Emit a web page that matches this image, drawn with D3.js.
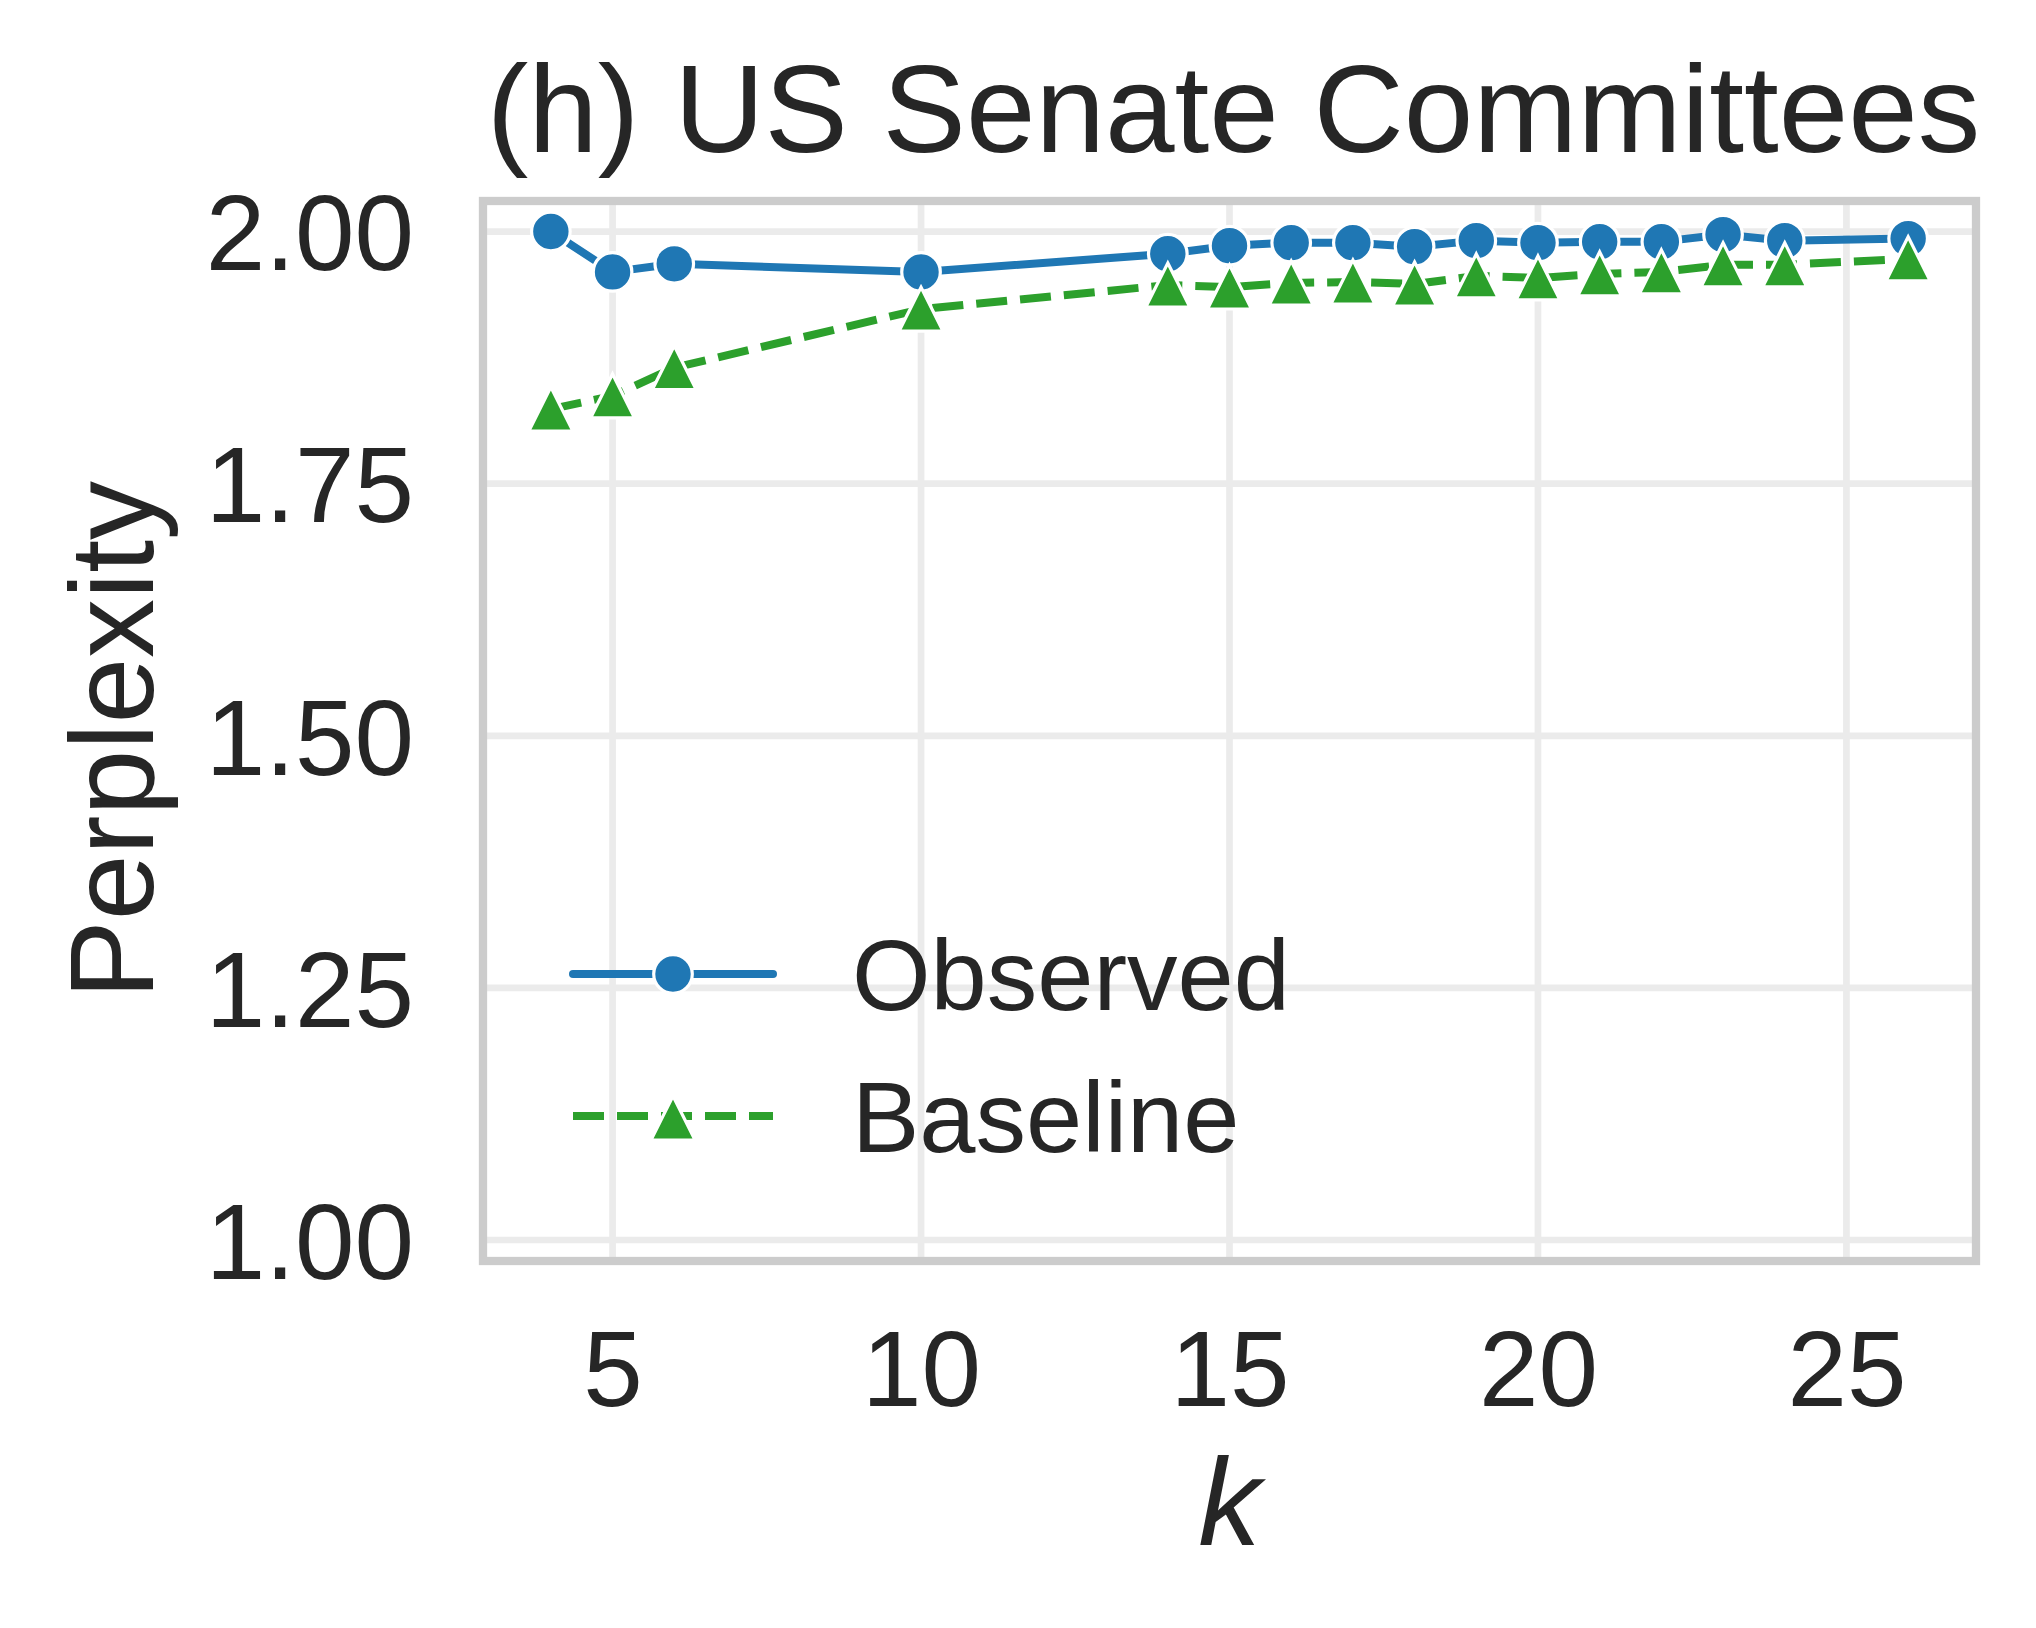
<!DOCTYPE html>
<html>
<head>
<meta charset="utf-8">
<script src="https://cdn.jsdelivr.net/npm/d3@7"></script>
<style>
  html, body { margin: 0; padding: 0; background: #ffffff; }
  svg { display: block; }
  text { font-family: "Liberation Sans", Arial, Helvetica, sans-serif; fill: #262626; }
</style>
</head>
<body>
<svg id="chart" width="2036" height="1628"></svg>
<script>
// ---- data ----
const kValues = [4, 5, 6, 10, 14, 15, 16, 17, 18, 19, 20, 21, 22, 23, 24, 26];
const observedValues = [2.000, 1.960, 1.968, 1.960, 1.978, 1.986, 1.989, 1.989, 1.985, 1.991, 1.989, 1.990, 1.990, 1.997, 1.991, 1.993];
const baselineValues = [1.824, 1.837, 1.865, 1.923, 1.947, 1.945, 1.949, 1.950, 1.948, 1.956, 1.954, 1.958, 1.960, 1.967, 1.967, 1.973];
const xTickValues = [5, 10, 15, 20, 25];
const yTickValues = [1.00, 1.25, 1.50, 1.75, 2.00];
const seriesNames = ["Observed", "Baseline"];
const titleText = "(h) US Senate Committees";
const xLabelText = "k";
const yLabelText = "Perplexity";

// ---- layout ----
const svg = d3.select("#chart");
const pL = 483, pR = 1976, pT = 201, pB = 1261;
const x = d3.scaleLinear().domain([2.9, 27.1]).range([pL, pR]);
const y = d3.scaleLinear().domain([0.9792, 2.0303]).range([pB, pT]);

const blue = "#1f77b4", green = "#2ca02c";
const tickFont = 107, labelFont = 125, yLabelFont = 118, legendFont = 101;

// grid
const grid = svg.append("g");
grid.selectAll("line.gx").data(xTickValues).join("line")
  .attr("x1", d => x(d)).attr("x2", d => x(d))
  .attr("y1", pT).attr("y2", pB)
  .attr("stroke", "#ebebeb").attr("stroke-width", 6.7);
grid.selectAll("line.gy").data(yTickValues).join("line")
  .attr("x1", pL).attr("x2", pR)
  .attr("y1", d => y(d)).attr("y2", d => y(d))
  .attr("stroke", "#ebebeb").attr("stroke-width", 6.7);

// clip
svg.append("clipPath").attr("id", "plotclip")
  .append("rect").attr("x", pL).attr("y", pT).attr("width", pR - pL).attr("height", pB - pT);

const plot = svg.append("g").attr("clip-path", "url(#plotclip)");

const obsData = kValues.map((k, i) => ({k, v: observedValues[i]}));
const baseData = kValues.map((k, i) => ({k, v: baselineValues[i]}));
const lineGen = d3.line().x(d => x(d.k)).y(d => y(d.v));

const triPath = s => `M0,${-s}L${s},${s}L${-s},${s}Z`;

// observed
plot.append("path").datum(obsData).attr("d", lineGen)
  .attr("fill", "none").attr("stroke", blue).attr("stroke-width", 8)
  .attr("stroke-linejoin", "round").attr("stroke-linecap", "round");
plot.selectAll("circle.obs").data(obsData).join("circle")
  .attr("cx", d => x(d.k)).attr("cy", d => y(d.v)).attr("r", 19.3)
  .attr("fill", blue).attr("stroke", "#ffffff").attr("stroke-width", 3.2);

// baseline
plot.append("path").datum(baseData).attr("d", lineGen)
  .attr("fill", "none").attr("stroke", green).attr("stroke-width", 8)
  .attr("stroke-dasharray", "31,13");
plot.selectAll("path.base").data(baseData).join("path")
  .attr("transform", d => `translate(${x(d.k)},${y(d.v)})`)
  .attr("d", triPath(22))
  .attr("fill", green).attr("stroke", "#ffffff").attr("stroke-width", 3.2)
  .attr("stroke-linejoin", "miter");

// spines
svg.append("rect").attr("x", pL).attr("y", pT).attr("width", pR - pL).attr("height", pB - pT)
  .attr("fill", "none").attr("stroke", "#cccccc").attr("stroke-width", 8.3);

// axes (tick labels)
const xAxis = svg.append("g").attr("transform", `translate(0,${pB})`)
  .call(d3.axisBottom(x).tickValues(xTickValues).tickSize(0).tickPadding(69).tickFormat(d3.format("d")));
const yAxis = svg.append("g").attr("transform", `translate(${pL},0)`)
  .call(d3.axisLeft(y).tickValues(yTickValues).tickSize(0).tickPadding(69).tickFormat(d3.format(".2f")));
[xAxis, yAxis].forEach(a => {
  a.select(".domain").remove();
  a.selectAll("text").attr("font-size", tickFont)
    .attr("font-family", "'Liberation Sans', Arial, sans-serif").attr("fill", "#262626");
});
yAxis.selectAll("text").attr("dy", "0.358em");

// title
svg.append("text").attr("x", (pL + pR) / 2 + 4).attr("y", 152)
  .attr("text-anchor", "middle").attr("font-size", labelFont).text(titleText);

// axis labels
svg.append("text").attr("x", (pL + pR) / 2).attr("y", 1545)
  .attr("text-anchor", "middle").attr("font-size", labelFont).attr("font-style", "italic").text(xLabelText);
svg.append("text").attr("transform", `translate(153,${(pT + pB) / 2 + 9}) rotate(-90)`)
  .attr("text-anchor", "middle").attr("font-size", yLabelFont).text(yLabelText);

// legend
const legend = svg.append("g");
const legY = [974, 1116];
const legStyles = [
  {color: blue, dash: null, marker: "circle"},
  {color: green, dash: "31,13", marker: "tri"}
];
seriesNames.forEach((name, i) => {
  const g = legend.append("g").attr("transform", `translate(0,${legY[i]})`);
  g.append("line").attr("x1", 573).attr("x2", 773).attr("y1", 0).attr("y2", 0)
    .attr("stroke", legStyles[i].color).attr("stroke-width", 8)
    .attr("stroke-linecap", legStyles[i].dash ? "butt" : "round")
    .attr("stroke-dasharray", legStyles[i].dash);
  if (legStyles[i].marker === "circle") {
    g.append("circle").attr("cx", 673).attr("cy", 0).attr("r", 19.3)
      .attr("fill", legStyles[i].color).attr("stroke", "#fff").attr("stroke-width", 3.2);
  } else {
    g.append("path").attr("transform", "translate(673,2)").attr("d", triPath(22))
      .attr("fill", legStyles[i].color).attr("stroke", "#fff").attr("stroke-width", 3.2);
  }
  g.append("text").attr("x", 852).attr("y", 36).attr("font-size", legendFont).text(name);
});
</script>
</body>
</html>
